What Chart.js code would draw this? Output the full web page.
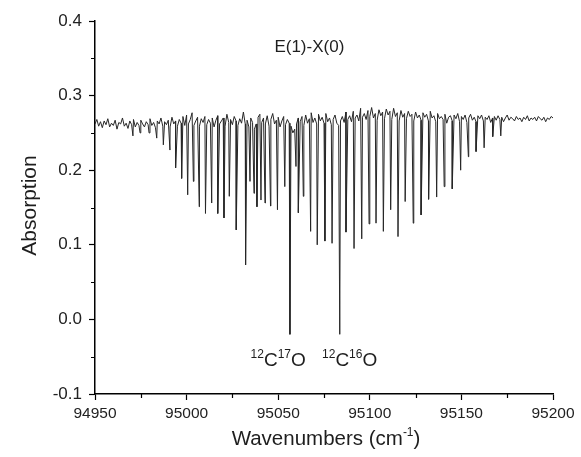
<!DOCTYPE html>
<html>
<head>
<meta charset="utf-8">
<script src="https://cdn.jsdelivr.net/npm/chart.js@4/dist/chart.umd.min.js"></script>
<style>
html,body{margin:0;padding:0;background:#fff;}
canvas{display:block;}
</style>
</head>
<body>
<canvas id="c" width="581" height="457"></canvas>
<script>
// ---- data ----
const xMin = 94950, xMax = 95200;
const yMin = -0.1, yMax = 0.4;
const xTickLabels = ['94950','95000','95050','95100','95150','95200'];
const yTickLabels = ['-0.1','0.0','0.1','0.2','0.3','0.4'];
const xMinorTicks = [94975, 95025, 95075, 95125, 95175];
const yMinorTicks = [-0.05, 0.05, 0.15, 0.25, 0.35];

// baseline (noisy continuum), one value per cm-1 from 94950 to 95200
const baselineStart = 94950;
const baseline = [
0.262,0.268,0.259,0.265,0.257,0.266,0.261,0.269,0.258,0.263,
0.260,0.267,0.255,0.264,0.262,0.270,0.259,0.263,0.256,0.266,
0.261,0.268,0.258,0.264,0.260,0.267,0.262,0.258,0.265,0.261,
0.269,0.260,0.264,0.257,0.266,0.262,0.270,0.259,0.265,0.261,
0.267,0.258,0.271,0.262,0.266,0.259,0.268,0.263,0.272,0.260,
0.274,0.262,0.268,0.277,0.260,0.266,0.271,0.259,0.269,0.264,
0.272,0.261,0.268,0.263,0.270,0.258,0.267,0.273,0.262,0.266,
0.270,0.259,0.275,0.264,0.268,0.261,0.272,0.266,0.260,0.269,
0.263,0.278,0.262,0.267,0.258,0.270,0.264,0.255,0.262,0.271,
0.275,0.264,0.270,0.262,0.273,0.259,0.268,0.276,0.262,0.267,
0.271,0.258,0.266,0.272,0.261,0.268,0.263,0.259,0.250,0.255,
0.262,0.270,0.265,0.272,0.260,0.274,0.263,0.269,0.277,0.264,
0.270,0.262,0.275,0.266,0.271,0.263,0.276,0.265,0.270,0.261,
0.268,0.274,0.263,0.260,0.266,0.272,0.264,0.278,0.268,0.273,
0.265,0.279,0.270,0.274,0.266,0.283,0.271,0.276,0.268,0.280,
0.272,0.284,0.270,0.276,0.267,0.281,0.273,0.278,0.269,0.282,
0.274,0.279,0.268,0.283,0.272,0.277,0.266,0.280,0.271,0.276,
0.269,0.279,0.272,0.275,0.266,0.278,0.270,0.274,0.267,0.277,
0.271,0.275,0.266,0.279,0.270,0.273,0.265,0.276,0.269,0.272,
0.268,0.275,0.263,0.271,0.273,0.266,0.274,0.269,0.276,0.265,
0.272,0.268,0.274,0.264,0.270,0.275,0.267,0.271,0.265,0.273,
0.269,0.274,0.266,0.271,0.268,0.273,0.264,0.270,0.272,0.267,
0.273,0.268,0.271,0.265,0.270,0.274,0.267,0.271,0.269,0.266,
0.272,0.268,0.270,0.265,0.271,0.268,0.273,0.266,0.270,0.268,
0.271,0.266,0.272,0.269,0.267,0.271,0.265,0.270,0.268,0.272,
0.270
];

// absorption line positions (cm-1) and their minimum values
const lineCenters = [
94970.7,94974.6,94979.5,94983.7,94987.3,94990.9,94994.0,94997.3,95000.6,95003.7,
95006.9,95010.3,95013.7,95017.0,95020.4,95023.3,95027.1,95032.2,95034.6,95036.8,
95038.4,95040.6,95042.8,95045.8,95049.6,95053.6,95056.4,95059.7,95061.0,95063.7,
95067.7,95071.3,95075.5,95079.4,95083.6,95087.0,95091.4,95095.6,95099.6,95103.4,
95107.4,95111.4,95115.4,95119.3,95123.7,95128.0,95132.1,95136.5,95140.6,95145.0,
95149.6,95153.8,95158.0,95162.4,95167.1,95171.5
];
const lineMinima = [
0.246,0.250,0.250,0.243,0.234,0.227,0.203,0.189,0.167,0.185,
0.151,0.142,0.156,0.142,0.136,0.165,0.120,0.073,0.185,0.169,
0.151,0.160,0.156,0.152,0.147,0.178,-0.020,0.205,0.143,0.165,
0.118,0.100,0.105,0.102,-0.020,0.117,0.095,0.108,0.128,0.129,
0.118,0.147,0.111,0.158,0.129,0.140,0.161,0.164,0.178,0.175,
0.200,0.218,0.225,0.230,0.245,0.246
];

// annotation texts and anchor positions (data coordinates)
const bandLabel = 'E(1)-X(0)';
const bandLabelPos = [95067, 0.358];
const isoLabels = [
  {parts:[['12',1],['C',0],['17',1],['O',0]], pos:[95050.0, -0.063]},
  {parts:[['12',1],['C',0],['16',1],['O',0]], pos:[95089.0, -0.063]}
];
const xTitleParts = [['Wavenumbers (cm',0],['-1',1],[')',0]];
const yTitle = 'Absorption';

// ---- build the point list from the read values ----
const pts = [];
baseline.forEach((v,i)=>pts.push({x: baselineStart+i, y: v}));
lineCenters.forEach((c,i)=>pts.push({x: c, y: lineMinima[i]}));
pts.sort((a,b)=>a.x-b.x);

const FONT = '"Liberation Sans", Arial, Helvetica, sans-serif';

function drawParts(ctx, parts, cx, by, size, supSize){
  let total = 0;
  const widths = parts.map(([t,s])=>{
    ctx.font = (s?supSize:size)+'px '+FONT;
    const w = ctx.measureText(t).width; total += w; return w;
  });
  let x = cx - total/2;
  parts.forEach(([t,s],i)=>{
    ctx.font = (s?supSize:size)+'px '+FONT;
    ctx.fillText(t, x, s ? by - size*0.42 : by);
    x += widths[i];
  });
}

const textPlugin = {
  id:'texts',
  afterDraw(chart){
    const {ctx, chartArea, scales:{x,y}} = chart;
    ctx.save();
    // minor ticks (shorter than major ones)
    ctx.strokeStyle = '#000';
    ctx.lineWidth = 1.2;
    ctx.beginPath();
    xMinorTicks.forEach(v=>{
      const px = Math.round(x.getPixelForValue(v)) + 0.5;
      ctx.moveTo(px, chartArea.bottom); ctx.lineTo(px, chartArea.bottom + 4);
    });
    yMinorTicks.forEach(v=>{
      const py = Math.round(y.getPixelForValue(v)) + 0.5;
      ctx.moveTo(chartArea.left, py); ctx.lineTo(chartArea.left - 4, py);
    });
    ctx.stroke();

    ctx.fillStyle = '#1e1e1e';
    ctx.textBaseline = 'alphabetic';
    ctx.textAlign = 'left';
    // band label
    drawParts(ctx, [[bandLabel,0]], x.getPixelForValue(bandLabelPos[0]), y.getPixelForValue(bandLabelPos[1]), 17, 11);
    // isotopologue labels
    isoLabels.forEach(l=>{
      drawParts(ctx, l.parts, x.getPixelForValue(l.pos[0]), y.getPixelForValue(l.pos[1]), 19, 12);
    });
    // x title
    drawParts(ctx, xTitleParts, (chartArea.left+chartArea.right)/2 + 2, 445, 20.5, 12);
    // y title
    ctx.translate(30, (chartArea.top+chartArea.bottom)/2 - 2);
    ctx.rotate(-Math.PI/2);
    drawParts(ctx, [[yTitle,0]], 0, 6, 21, 12);
    ctx.restore();
  }
};

function isMajorX(v){ return xTickLabels.includes(String(Math.round(v))); }
function isMajorY(v){ const r = Math.round(v*100); return r % 10 === 0; }

new Chart(document.getElementById('c'), {
  type: 'line',
  data: {
    datasets: [{
      data: pts,
      borderColor: '#262626',
      borderWidth: 1,
      pointRadius: 0,
      tension: 0,
      fill: false
    }]
  },
  options: {
    responsive: false,
    devicePixelRatio: 1,
    animation: false,
    layout: {padding: {top: 21, right: 28, left: 0, bottom: 0}},
    plugins: {legend: {display: false}, tooltip: {enabled: false}},
    scales: {
      x: {
        type: 'linear', min: xMin, max: xMax,
        afterFit(s){ s.height = 63; },
        ticks: {
          stepSize: 25, autoSkip: false, maxRotation: 0, padding: 4,
          color: '#222', font: {family: FONT, size: 15.5},
          callback(v){ const s = String(Math.round(v)); return xTickLabels.includes(s) ? s : ''; }
        },
        grid: {drawOnChartArea: false, drawTicks: true, tickLength: 6,
               tickColor: (c)=> (c.tick && isMajorX(c.tick.value)) ? '#000' : 'rgba(0,0,0,0)', tickWidth: 1.2},
        border: {display: true, color: '#000', width: 1.5}
      },
      y: {
        type: 'linear', min: yMin, max: yMax,
        afterFit(s){ s.width = 95; },
        ticks: {
          stepSize: 0.05, autoSkip: false, padding: 7,
          color: '#222', font: {family: FONT, size: 17},
          callback(v){ const r = Math.round(v*100); const s = (r/100).toFixed(1); return (r%10===0 && yTickLabels.includes(s)) ? s : ''; }
        },
        grid: {drawOnChartArea: false, drawTicks: true, tickLength: 6,
               tickColor: (c)=> (c.tick && isMajorY(c.tick.value)) ? '#000' : 'rgba(0,0,0,0)', tickWidth: 1.2},
        border: {display: true, color: '#000', width: 1.5}
      }
    }
  },
  plugins: [textPlugin]
});
</script>
</body>
</html>
